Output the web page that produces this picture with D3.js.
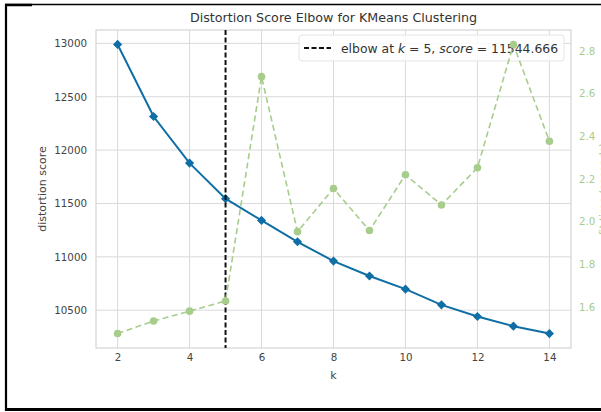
<!DOCTYPE html>
<html lang="en">
<head>
  <meta charset="UTF-8">
  <title>Distortion Score Elbow</title>
  <script src="https://d3js.org/d3.v7.min.js"></script>
  <style>
    body { margin: 0; background: #fff; }
    text { font-family: "DejaVu Sans", sans-serif; }
  </style>
</head>
<body>
<div id="chart"></div>
<script>
  // data
  const ks = [2, 3, 4, 5, 6, 7, 8, 9, 10, 11, 12, 13, 14];
  const distortion = [12990, 12315, 11878, 11544.666, 11341, 11141, 10960, 10820, 10697, 10550, 10441, 10350, 10281];
  const fitTime = [1.475, 1.534, 1.580, 1.628, 2.680, 1.953, 2.155, 1.958, 2.220, 2.078, 2.253, 2.831, 2.377];
  const xTicks = [2, 4, 6, 8, 10, 12, 14];
  const yTicks = [10500, 11000, 11500, 12000, 12500, 13000];
  const y2Ticks = [1.6, 1.8, 2.0, 2.2, 2.4, 2.6, 2.8];
  const elbowK = 5;
  const elbowScore = 11544.666;

  const W = 601, H = 412;
  const pLeft = 96, pRight = 571, pTop = 30, pBottom = 348;
  const blue = "#0f6ea5", green = "#a7cd8c";

  const svg = d3.select("#chart").append("svg")
    .attr("width", W).attr("height", H);

  // margin of 5% like matplotlib
  function pad(ext) {
    const m = (ext[1] - ext[0]) * 0.05;
    return [ext[0] - m, ext[1] + m];
  }

  const x = d3.scaleLinear().domain(pad(d3.extent(ks))).range([pLeft, pRight]);
  const y = d3.scaleLinear().domain(pad(d3.extent(distortion))).range([pBottom, pTop]);
  const y2 = d3.scaleLinear().domain(pad(d3.extent(fitTime))).range([pBottom, pTop]);

  // grid
  const grid = svg.append("g");
  grid.selectAll(".gx").data(xTicks).enter().append("line")
    .attr("x1", d => x(d)).attr("x2", d => x(d))
    .attr("y1", pTop).attr("y2", pBottom)
    .attr("stroke", "#dadada").attr("stroke-width", 1);
  grid.selectAll(".gy").data(yTicks).enter().append("line")
    .attr("x1", pLeft).attr("x2", pRight)
    .attr("y1", d => y(d)).attr("y2", d => y(d))
    .attr("stroke", "#dadada").attr("stroke-width", 1);

  svg.append("rect")
    .attr("x", pLeft).attr("y", pTop)
    .attr("width", pRight - pLeft).attr("height", pBottom - pTop)
    .attr("fill", "none").attr("stroke", "#d4d4d4").attr("stroke-width", 1.2);

  // axes (tick labels only)
  const xAxis = svg.append("g").attr("transform", `translate(0,${pBottom})`)
    .call(d3.axisBottom(x).tickValues(xTicks).tickSize(0).tickPadding(6));
  const yAxis = svg.append("g").attr("transform", `translate(${pLeft},0)`)
    .call(d3.axisLeft(y).tickValues(yTicks).tickSize(0).tickPadding(9).tickFormat(d3.format("d")));
  const y2Axis = svg.append("g").attr("transform", `translate(${pRight},0)`)
    .call(d3.axisRight(y2).tickValues(y2Ticks).tickSize(0).tickPadding(8).tickFormat(d3.format(".1f")));
  [xAxis, yAxis, y2Axis].forEach(a => {
    a.select(".domain").remove();
    a.selectAll("text").attr("font-size", 10.3).attr("font-family", "DejaVu Sans");
  });
  xAxis.selectAll("text").attr("fill", "#444");
  yAxis.selectAll("text").attr("fill", "#444");
  y2Axis.selectAll("text").attr("fill", green);

  // distortion (blue)
  svg.append("path").datum(ks)
    .attr("fill", "none").attr("stroke", blue).attr("stroke-width", 2)
    .attr("d", d3.line().x(d => x(d)).y((d, i) => y(distortion[i])));
  svg.selectAll(".ds").data(ks).enter().append("path")
    .attr("d", d3.symbol(d3.symbolSquare, 42))
    .attr("transform", (d, i) => `translate(${x(d)},${y(distortion[i])}) rotate(45)`)
    .attr("fill", blue);

  // elbow line
  svg.append("line")
    .attr("x1", x(elbowK)).attr("x2", x(elbowK))
    .attr("y1", pTop).attr("y2", pBottom)
    .attr("stroke", "#111").attr("stroke-width", 2)
    .attr("stroke-dasharray", "5,2.5");

  // legend (belongs to the first axes, so the twin series sits above it)
  const lg = svg.append("g");
  lg.append("rect")
    .attr("x", 299).attr("y", 35).attr("width", 265).attr("height", 26)
    .attr("rx", 3).attr("fill", "#fff").attr("fill-opacity", 0.85)
    .attr("stroke", "#e4e4e4");
  lg.append("line")
    .attr("x1", 304).attr("x2", 331).attr("y1", 48).attr("y2", 48)
    .attr("stroke", "#111").attr("stroke-width", 2).attr("stroke-dasharray", "5,2.5");
  const lt = lg.append("text").attr("x", 341).attr("y", 52.5)
    .attr("font-size", 12.4).attr("fill", "#333");
  lt.append("tspan").text("elbow at ");
  lt.append("tspan").attr("font-style", "italic").text("k");
  lt.append("tspan").text(` = ${elbowK}, `);
  lt.append("tspan").attr("font-style", "italic").text("score");
  lt.append("tspan").text(` = ${elbowScore}`);

  // fit time (dashed green, twin axis)
  svg.append("path").datum(ks)
    .attr("fill", "none").attr("stroke", green).attr("stroke-width", 1.6)
    .attr("stroke-dasharray", "6,3.5")
    .attr("d", d3.line().x(d => x(d)).y((d, i) => y2(fitTime[i])));
  svg.selectAll(".ft").data(ks).enter().append("circle")
    .attr("cx", d => x(d)).attr("cy", (d, i) => y2(fitTime[i]))
    .attr("r", 3.8).attr("fill", green);

  // titles
  svg.append("text").attr("x", (pLeft + pRight) / 2).attr("y", 22)
    .attr("text-anchor", "middle").attr("font-size", 12.7).attr("fill", "#333")
    .text("Distortion Score Elbow for KMeans Clustering");
  svg.append("text").attr("x", (pLeft + pRight) / 2).attr("y", 379)
    .attr("text-anchor", "middle").attr("font-size", 11).attr("fill", "#444")
    .text("k");
  svg.append("text")
    .attr("transform", `translate(46,${(pTop + pBottom) / 2}) rotate(-90)`)
    .attr("text-anchor", "middle").attr("font-size", 11).attr("fill", "#444")
    .text("distortion score");
  // right label runs off the edge of the screenshot, as in the original
  svg.append("text")
    .attr("transform", `translate(607,${(pTop + pBottom) / 2}) rotate(-90)`)
    .attr("text-anchor", "middle").attr("font-size", 10.5).attr("fill", green)
    .text("fit time (seconds)");

  // black frame of the screenshot
  const fr = svg.append("g").attr("stroke", "#000");
  fr.append("line").attr("x1", 5).attr("x2", 601).attr("y1", 4.5).attr("y2", 4.5).attr("stroke-width", 1.5);
  fr.append("line").attr("x1", 5).attr("x2", 32).attr("y1", 5).attr("y2", 5).attr("stroke-width", 2.5);
  fr.append("line").attr("x1", 6).attr("x2", 6).attr("y1", 4).attr("y2", 411).attr("stroke-width", 2.2);
  fr.append("line").attr("x1", 5).attr("x2", 601).attr("y1", 409.5).attr("y2", 409.5).attr("stroke-width", 3);
</script>
</body>
</html>
